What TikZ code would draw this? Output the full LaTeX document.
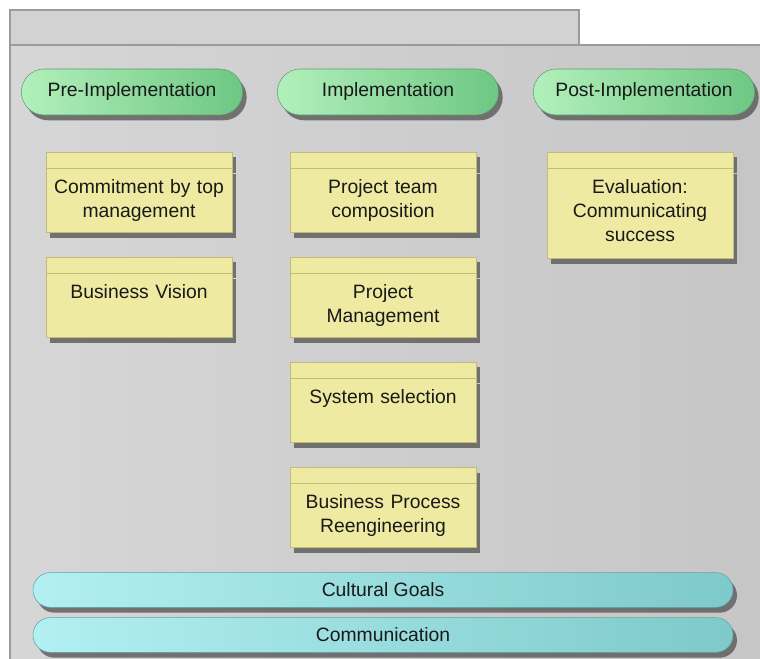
\documentclass[tikz,border=0pt]{standalone}
\usepackage{fontspec}
\setmainfont{Liberation Sans}
\usetikzlibrary{positioning}
\usetikzlibrary{shapes.misc,shadows}
\definecolor{panelc}{HTML}{C6C6C6}
\definecolor{panellc}{HTML}{D6D6D6}
\definecolor{tabc}{HTML}{D2D2D2}
\definecolor{edgec}{HTML}{9A9A9A}
\definecolor{phaselc}{HTML}{B2F0BA}
\definecolor{phaserc}{HTML}{6EC784}
\definecolor{phaseedgec}{HTML}{5E9E70}
\definecolor{cardc}{HTML}{EEEAA2}
\definecolor{cardedgec}{HTML}{C2BC78}
\definecolor{goallc}{HTML}{B2F0F2}
\definecolor{goalrc}{HTML}{7EC9CA}
\definecolor{goaledgec}{HTML}{5EA4AA}

\begin{document}
\begin{tikzpicture}[x=0.75pt,y=-0.75pt,
  every node/.style={font=\fontsize{14.5}{18}\selectfont, text=black!90},
  shade/.style={drop shadow={shadow xshift=3pt,shadow yshift=-4pt,fill=black!65,opacity=.8}},
  phase/.style={rounded rectangle, draw=phaseedgec, left color=phaselc, right color=phaserc,
    minimum width=166pt, minimum height=34.5pt, inner sep=0pt, shade},
  band/.style={rectangle, draw=cardedgec, fill=cardc, minimum width=139.5pt,
    minimum height=12pt, inner sep=0pt, shade},
  card/.style={rectangle, draw=cardedgec, fill=cardc, text width=139.5pt,
    text height=18.5pt, text depth=29.5pt, inner sep=0pt, align=center, shade},
  goal/.style={rounded rectangle, draw=goaledgec, left color=goallc, right color=goalrc,
    minimum width=525pt, minimum height=26pt, inner sep=0pt, shade}]
\useasboundingbox (0,0) rectangle (760,659);

% panel
\fill[tabc] (10,10) rectangle (579,45);
\shade[left color=panellc, right color=panelc] (10,45) rectangle (760,659);
\draw[edgec, line width=.8pt] (10,659) -- (10,10) -- (579,10) -- (579,45);
\draw[edgec, line width=.8pt] (10,45) -- (760,45);

% phases
\node[phase] (pre) at (132,92) {Pre-Implementation};
\node[phase] (impl) at (388,92) {Implementation};
\node[phase] (post) at (644,92) {Post-Implementation};

% pre-implementation
\node[band] (bandA) at (139,160) {};
\node[card, below=0pt of bandA] (commit) {Commitment by top\\management};
\node[band, below=18pt of commit] (bandB) {};
\node[card, below=0pt of bandB] (vision) {Business Vision};

% implementation
\node[band] (bandC) at (383,160) {};
\node[card, below=0pt of bandC] (team) {Project team\\composition};
\node[band, below=18pt of team] (bandD) {};
\node[card, below=0pt of bandD] (pm) {Project\\Management};
\node[band, below=18pt of pm] (bandE) {};
\node[card, below=0pt of bandE] (select) {System selection};
\node[band, below=18pt of select] (bandF) {};
\node[card, below=0pt of bandF] (bpr) {Business Process\\Reengineering};

% post-implementation
\node[band] (bandG) at (640,160) {};
\node[card, text depth=49pt, below=0pt of bandG] (eval) {Evaluation:\\Communicating\\success};

% goals
\node[goal] (culture) at (383,590) {Cultural Goals};
\node[goal] (comm) at (383,635) {Communication};

\end{tikzpicture}
\end{document}
